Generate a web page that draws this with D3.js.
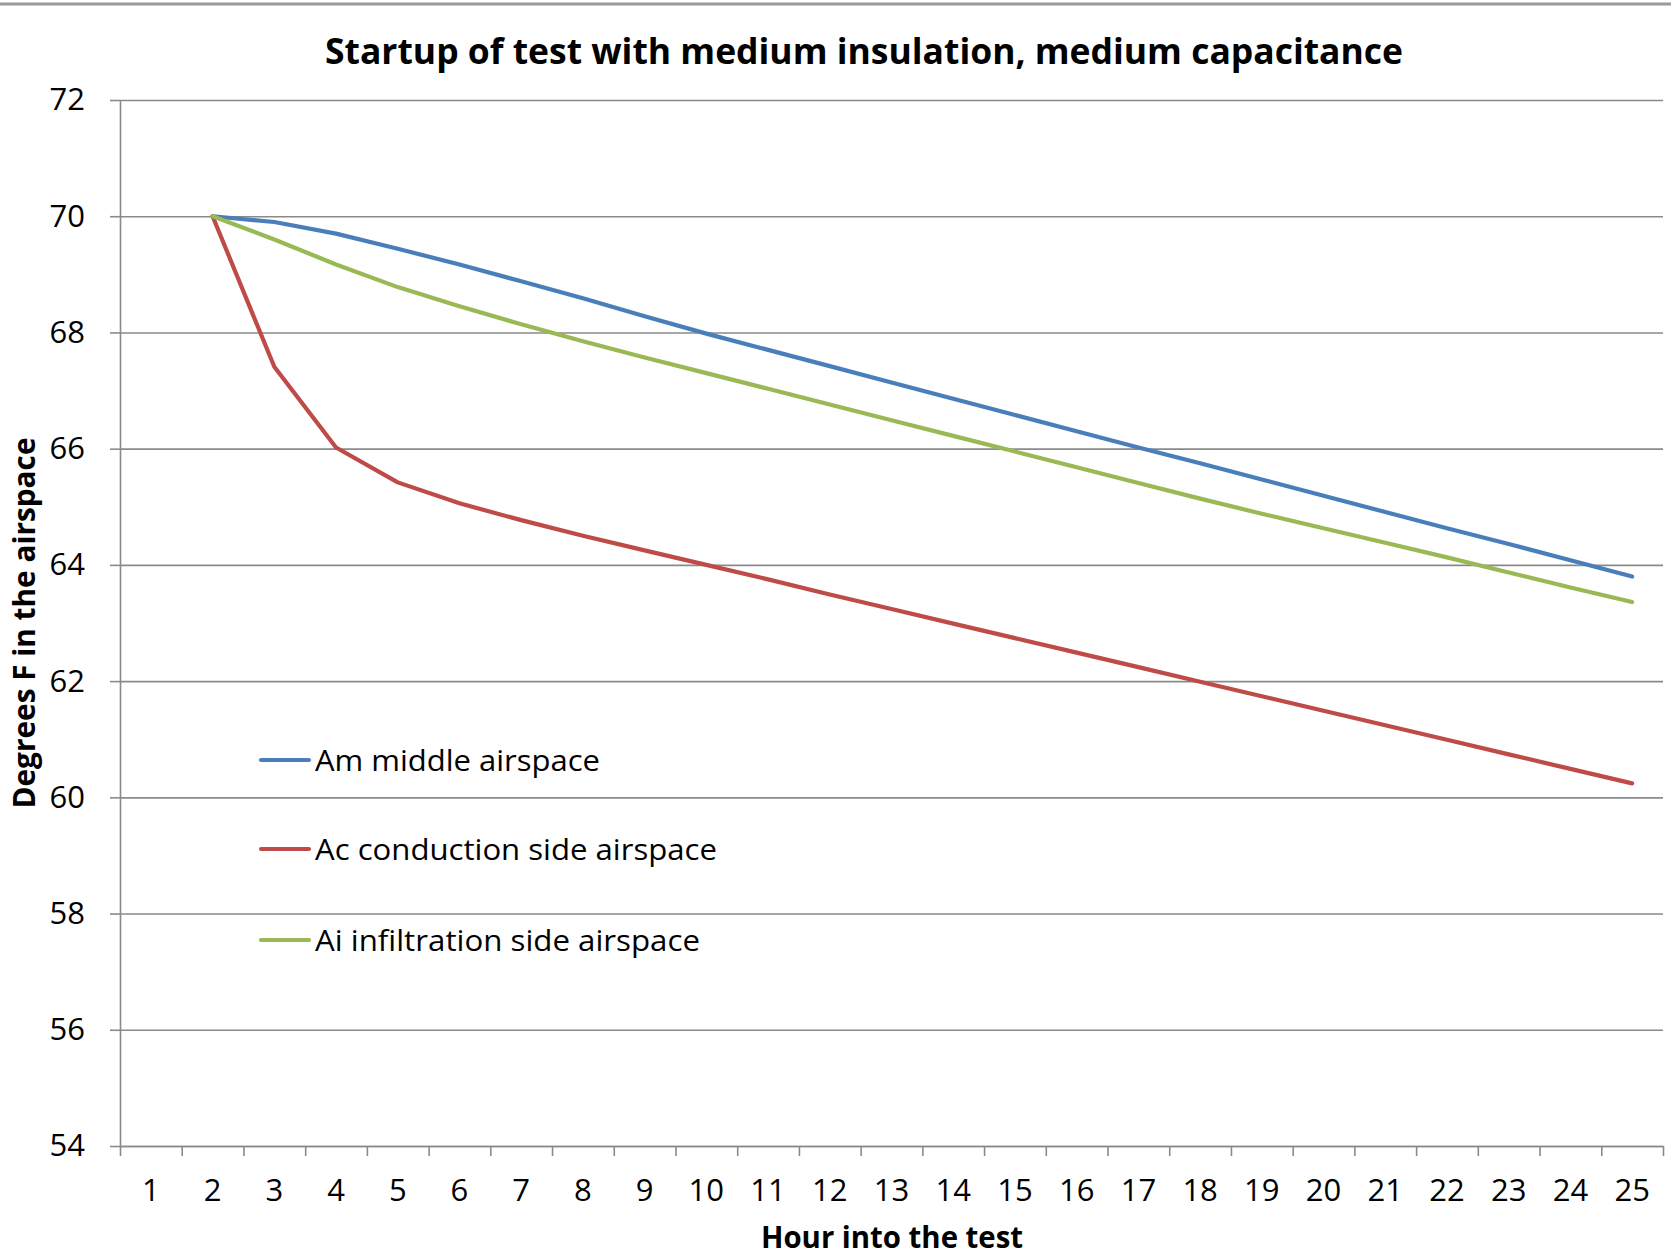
<!DOCTYPE html>
<html>
<head>
<meta charset="utf-8">
<script src="https://cdn.jsdelivr.net/npm/d3@7"></script>
<style>
  html, body { margin: 0; padding: 0; background: #fff; }
  svg { display: block; }
  text { font-family: "Open Sans", "Noto Sans", sans-serif; fill: #000; }
</style>
</head>
<body>
<svg id="chart" width="1671" height="1258"></svg>
<script>
const chartTitle = "Startup of test with medium insulation, medium capacitance";
const xTitle = "Hour into the test";
const yTitle = "Degrees F in the airspace";

const hours = d3.range(1, 26);           // x categories 1..25
const yTicks = [54, 56, 58, 60, 62, 64, 66, 68, 70, 72];

// values for hours 1..25 (hour 1 has no data)
const amMiddle = [null, 70.00, 69.90, 69.70, 69.44, 69.17, 68.88, 68.59, 68.28, 67.98,
  67.70, 67.42, 67.14, 66.86, 66.58, 66.30, 66.02, 65.75, 65.47, 65.19,
  64.91, 64.63, 64.36, 64.08, 63.80];
const acConduction = [null, 70.00, 67.41, 66.02, 65.42, 65.06, 64.77, 64.50, 64.25, 64.00,
  63.75, 63.49, 63.24, 62.99, 62.74, 62.49, 62.24, 61.99, 61.74, 61.49,
  61.24, 60.99, 60.74, 60.49, 60.24];
const aiInfiltration = [null, 70.00, 69.60, 69.17, 68.78, 68.45, 68.14, 67.85, 67.57, 67.30,
  67.03, 66.76, 66.49, 66.22, 65.95, 65.68, 65.41, 65.14, 64.88, 64.63,
  64.38, 64.13, 63.87, 63.61, 63.36];

const seriesNames = ["Am middle airspace", "Ac conduction side airspace", "Ai infiltration side airspace"];
const seriesColors = ["#4A7EBB", "#BE4B48", "#98B954"];
const seriesValues = [amMiddle, acConduction, aiInfiltration];

const svg = d3.select("#chart");
const L = 120, R = 1663, T = 100, B = 1146;
const gridColor = "#8a8a8a";

const x = d3.scaleBand().domain(hours).range([L, R]).padding(0);
const xEdge = d3.scaleLinear().domain([0.5, 25.5]).range([L, R]);
const y = d3.scaleLinear().domain([54, 72]).range([B, T]);

// top border remnant
svg.append("line").attr("x1", 0).attr("x2", 1671).attr("y1", 4).attr("y2", 4)
  .attr("stroke", "#9a9a9a").attr("stroke-width", 3);

// gridlines
const grid = svg.append("g").attr("transform", `translate(${L},0)`)
  .call(d3.axisLeft(y).tickValues(yTicks).tickSize(-(R - L)).tickSizeOuter(0).tickFormat(""));
grid.select(".domain").remove();
grid.selectAll(".tick line").attr("stroke", gridColor).attr("stroke-width", 1.6);

// y axis with outward ticks and labels
const yAx = svg.append("g").attr("transform", `translate(${L},0)`)
  .call(d3.axisLeft(y).tickValues(yTicks).tickSize(10).tickSizeOuter(0).tickPadding(25));
yAx.select(".domain").attr("stroke", gridColor).attr("stroke-width", 1.6);
yAx.selectAll(".tick line").attr("stroke", gridColor).attr("stroke-width", 1.6);
yAx.selectAll(".tick text").style("font-size", "31px").style("font-family", "'Open Sans', sans-serif").attr("fill", "#000");

// x axis tick marks at category boundaries
const xMarks = svg.append("g").attr("transform", `translate(0,${B})`)
  .call(d3.axisBottom(xEdge).tickValues(d3.range(0.5, 26, 1)).tickSize(10).tickSizeOuter(0).tickFormat(""));
xMarks.select(".domain").attr("stroke", gridColor).attr("stroke-width", 1.6);
xMarks.selectAll(".tick line").attr("stroke", gridColor).attr("stroke-width", 1.6);

// x labels at band centres
const xLab = svg.append("g").attr("transform", `translate(0,${B})`)
  .call(d3.axisBottom(x).tickSize(0).tickPadding(33));
xLab.select(".domain").remove();
xLab.selectAll(".tick text").style("font-size", "31px").style("font-family", "'Open Sans', sans-serif").attr("fill", "#000");

// lines
const line = d3.line()
  .defined(d => d.v != null)
  .x(d => x(d.h) + x.bandwidth() / 2)
  .y(d => y(d.v));

seriesValues.forEach((vals, i) => {
  const pts = hours.map((h, j) => ({ h, v: vals[j] }));
  svg.append("path").datum(pts)
    .attr("fill", "none")
    .attr("stroke", seriesColors[i])
    .attr("stroke-width", 4.2)
    .attr("stroke-linejoin", "round")
    .attr("stroke-linecap", "round")
    .attr("d", line);
});

// legend
const legY = [760, 849, 940];
const legW = [285, 402, 385];
seriesNames.forEach((name, i) => {
  svg.append("line").attr("x1", 261).attr("x2", 309).attr("y1", legY[i]).attr("y2", legY[i])
    .attr("stroke", seriesColors[i]).attr("stroke-width", 4.2).attr("stroke-linecap", "round");
  svg.append("text").attr("x", 315).attr("y", legY[i] + 10.5)
    .style("font-size", "30px")
    .attr("textLength", legW[i]).attr("lengthAdjust", "spacingAndGlyphs")
    .text(name);
});

// title
svg.append("text").attr("x", 864).attr("y", 64).attr("text-anchor", "middle")
  .style("font-size", "36px").style("font-weight", "bold")
  .attr("textLength", 1078).attr("lengthAdjust", "spacingAndGlyphs")
  .text(chartTitle);

// x axis title
svg.append("text").attr("x", 892).attr("y", 1248).attr("text-anchor", "middle")
  .style("font-size", "30px").style("font-weight", "bold")
  .attr("textLength", 262).attr("lengthAdjust", "spacingAndGlyphs")
  .text(xTitle);

// y axis title
svg.append("text").attr("transform", `translate(35,623) rotate(-90)`).attr("text-anchor", "middle")
  .style("font-size", "31px").style("font-weight", "bold")
  .attr("textLength", 371).attr("lengthAdjust", "spacingAndGlyphs")
  .text(yTitle);
</script>
</body>
</html>
